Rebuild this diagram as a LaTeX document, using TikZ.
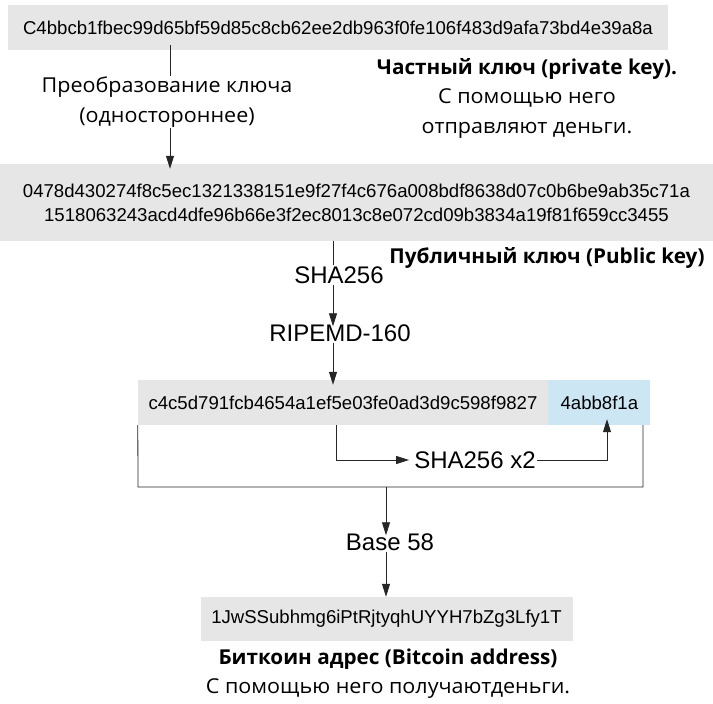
\documentclass[tikz,border=0pt]{standalone}
\usepackage{fontspec}
\setmainfont{Open Sans}[FakeStretch=1.05,BoldFeatures={FakeStretch=1.01}]
\newfontfamily\hexfont{Liberation Sans}
\usetikzlibrary{positioning,calc,arrows.meta}

\definecolor{keygray}{HTML}{E6E6E6}
\definecolor{sumblue}{HTML}{CCE6F4}

\tikzset{
  hexbox/.style={fill=keygray,inner sep=0pt,font=\hexfont\fontsize{18.6}{24}\selectfont},
  steplabel/.style={font=\hexfont\fontsize{24}{28}\selectfont,inner sep=1pt},
  note/.style={font=\fontsize{20.5}{29.5}\selectfont,align=center,inner sep=1pt},
  flow/.style={draw=black!85,line width=0.8pt},
  tip/.style={-{Triangle[length=13pt,width=8pt]}}
}

\begin{document}
\begin{tikzpicture}[x=1pt,y=-1pt]
\useasboundingbox[fill=white] (0,0) rectangle (713,704);

% private key
\node[hexbox,minimum width=660pt,minimum height=45pt] (priv) at (338,27.5) {C4bbcb1fbec99d65bf59d85c8cb62ee2db963f0fe106f483d9afa73bd4e39a8a};
\node[note] (conv) at (167,102) {Преобразование ключа\\(одностороннее)};
\node[note] (privnote) at (527,98) {\textbf{Частный ключ (private key).}\\С помощью него\\отправляют деньги.};

% public key
\node[hexbox,minimum width=713pt,minimum height=77pt,align=center] (pub) at (356.5,202.5) {0478d430274f8c5ec1321338151e9f27f4c676a008bdf8638d07c0b6be9ab35c71a\\1518063243acd4dfe96b66e3f2ec8013c8e072cd09b3834a19f81f659cc3455};
\node[note,font=\bfseries\fontsize{20.5}{24}\selectfont] (pubnote) at (547,258) {Публичный ключ (Public key)};
\node[steplabel] (sha) at (339,275) {SHA256};
\node[steplabel] (ripemd) at (340,333) {RIPEMD-160};

% hash and checksum
\node[hexbox,minimum width=410pt,minimum height=45pt] (hash) at (343,402.5) {c4c5d791fcb4654a1ef5e03fe0ad3d9c598f9827};
\node[hexbox,fill=sumblue,minimum width=102pt,minimum height=45pt,anchor=west] (check) at (hash.east) {4abb8f1a};
\node[steplabel] (dsha) at (475,460) {SHA256 x2};

% address
\node[steplabel] (base) at (390,542) {Base 58};
\node[hexbox,minimum width=372pt,minimum height=44pt] (addr) at (386.5,619) {1JwSSubhmg6iPtRjtyqhUYYH7bZg3Lfy1T};
\node[note] (addrnote) at (388,673.5) {\textbf{Биткоин адрес (Bitcoin address)}\\С помощью него получаютденьги.};

\coordinate (convx) at (170,0);
\coordinate (midx) at (333,0);
\coordinate (innerx) at (336,0);
\coordinate (checkx) at (607,0);
\coordinate (loopl) at (138,487);
\coordinate (loopr) at (643,487);
\coordinate (loopm) at (386,487);

\draw[flow] ([yshift=5pt]priv.south -| convx) -- (conv.north -| convx);
\draw[flow,tip] (conv.south -| convx) -- ([yshift=-5pt]pub.north -| convx);
\draw[flow] (pub.south -| midx) -- (sha.north -| midx);
\draw[flow,tip] (sha.south -| midx) -- ([yshift=-3pt]ripemd.north -| midx);
\draw[flow,tip] (ripemd.south -| midx) -- ([yshift=-5pt]hash.north -| midx);
\draw[flow] (hash.south west) -- (loopl) -- (loopr) -- (loopr |- check.south);
\draw[flow,tip] (hash.south -| innerx) -- (innerx |- dsha) -- ([xshift=-4pt]dsha.west);
\draw[flow,tip] (dsha.east) -| ([yshift=6pt]checkx |- check.south);
\draw[flow,tip] (loopm) -- ([yshift=-3pt]base.north -| loopm);
\draw[flow,tip] (base.south -| loopm) -- (addr.north -| loopm);
\end{tikzpicture}
\end{document}
